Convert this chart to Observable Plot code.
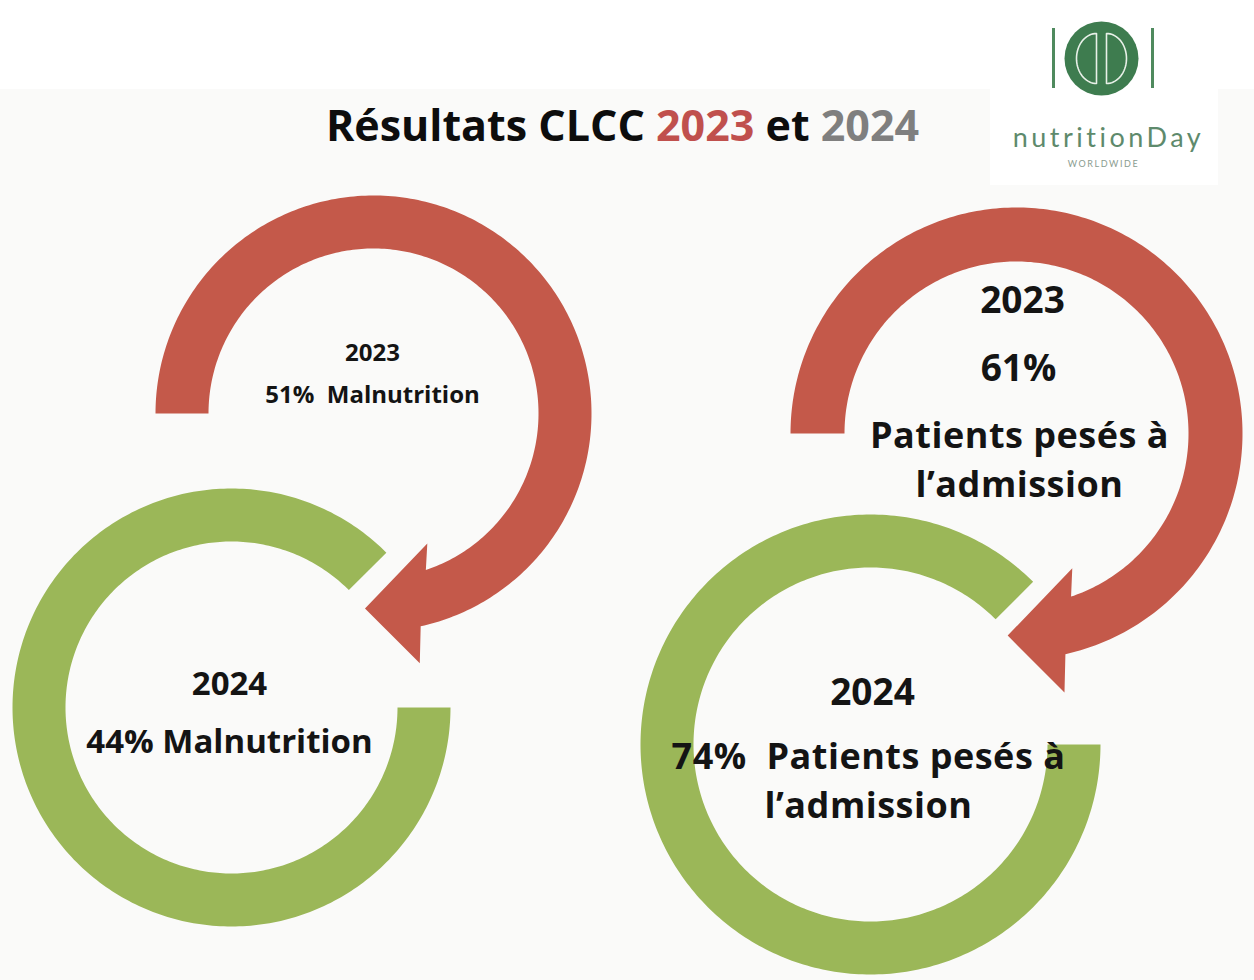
<!DOCTYPE html>
<html><head><meta charset="utf-8">
<script src="https://cdn.jsdelivr.net/npm/d3@7"></script>
<script src="https://cdn.jsdelivr.net/npm/@observablehq/plot@0.6"></script>
<style>
html,body{margin:0;padding:0;background:#fafaf9;}
#wrap{position:relative;width:1254px;height:980px;overflow:hidden;}
#chart{position:absolute;left:0;top:0;}
#title{position:absolute;left:0;top:103px;width:1245px;text-align:center;font-family:"Open Sans",sans-serif;font-weight:700;font-size:43px;line-height:43px;color:#0d0d0d;white-space:pre;}
</style></head><body>
<div id="wrap"><div id="chart"></div><div id="title"></div></div>
<script>
// ---- data ----
const years = ["2023", "2024"];
const malnutrition = [51, 44];          // % malnutrition
const weighedAtAdmission = [61, 74];    // % patients pesés à l'admission
const labelMal = "Malnutrition";
const labelWeighed1 = "Patients pesés à";
const labelWeighed2 = "l’admission";
const titleParts = ["Résultats CLCC ", years[0], " et ", years[1]];
const logoWord = "nutritionDay";
const logoSub = "WORLDWIDE";

// ---- styles / layout ----
const RED = "#c4594a", GREEN = "#9bb758", INK = "#141414";
const TITLE_COLORS = ["#0d0d0d", "#c0504d", "#0d0d0d", "#7f7f7f"];
const W = 1254, H = 980;
const layout = {
  rings: [ {id:"gL", cx:231, cy:707, R:219, r:166, a0:0, a1:315},
           {id:"gR", cx:870, cy:744, R:230, r:177, a0:0, a1:315} ],
  arrows: [ {id:"rL", cx:373, cy:413, R:218, r:165, a0:180},
            {id:"rR", cx:1016, cy:433, R:226, r:172, a0:180} ],
  head: {innerNotch:71.5, outerNotch:77.5, innerBarbR:0.645, innerBarbA:67.5,
         outerBarbR:1.165, outerBarbA:79.5, tipR:0.895, tipA:92.5},
  logo: {cx:1101, cy:58, r:37, lineX:[1053,1152], lineY:[28,88]}
};

const labelText = {
  malA_year: years[0],
  malA_val: `${malnutrition[0]}%\u00a0 ${labelMal}`,
  malB_year: years[1],
  malB_val: `${malnutrition[1]}% ${labelMal}`,
  wA_year: years[0],
  wA_val: `${weighedAtAdmission[0]}%`,
  wA_lbl: `${labelWeighed1}\n${labelWeighed2}`,
  wB_year: years[1],
  wB_lbl: `${weighedAtAdmission[1]}%\u00a0 ${labelWeighed1}\n${labelWeighed2}`
};
const textLayout = [
  {id:"malA_year", x:372, y:350, size:24},
  {id:"malA_val",  x:372, y:392, size:24},
  {id:"malB_year", x:229, y:680, size:33},
  {id:"malB_val",  x:229, y:738, size:33},
  {id:"wA_year",   x:1022, y:296, size:37},
  {id:"wA_val",    x:1018, y:364, size:37},
  {id:"wA_lbl",    x:1019, y:456.5, size:36},
  {id:"wB_year",   x:872, y:688, size:37},
  {id:"wB_lbl",    x:868, y:777.5, size:36}
];
const texts = textLayout.map(d => ({...d, text: labelText[d.id]}));

// ---- geometry helpers ----
const rad = d => d * Math.PI / 180;
const pt = (cx, cy, r, a) => ({x: cx + r * Math.cos(rad(a)), y: cy + r * Math.sin(rad(a))});
function arcPts(cx, cy, r, a0, a1) {
  const n = Math.max(2, Math.ceil(Math.abs(a1 - a0)));
  return d3.range(n + 1).map(i => pt(cx, cy, r, a0 + (a1 - a0) * i / n));
}
function ringShape(g) {
  return [...arcPts(g.cx, g.cy, g.R, g.a0, g.a1), ...arcPts(g.cx, g.cy, g.r, g.a1, g.a0)]
    .map(p => ({...p, id: g.id}));
}
function arrowShape(g) {
  const h = layout.head;
  const outer = arcPts(g.cx, g.cy, g.R, g.a0, 360 + h.outerNotch);
  const head = [pt(g.cx, g.cy, g.R * h.outerBarbR, 360 + h.outerBarbA),
                pt(g.cx, g.cy, g.R * h.tipR, 360 + h.tipA),
                pt(g.cx, g.cy, g.R * h.innerBarbR, 360 + h.innerBarbA)];
  const inner = arcPts(g.cx, g.cy, g.r, 360 + h.innerNotch, g.a0);
  return [...outer, ...head, ...inner].map(p => ({...p, id: g.id}));
}
const ringPts = layout.rings.flatMap(ringShape);
const arrowPts = layout.arrows.flatMap(arrowShape);

// logo glyph (two mirrored half-ellipses)
const L = layout.logo;
const glyph = [-1, 1].flatMap(s => d3.range(-90, 91, 5).map(t =>
  ({id: s, x: L.cx + s * 5 + s * 20 * Math.cos(rad(t)), y: L.cy + 25 * Math.sin(rad(t))})));

const chart = Plot.plot({
  width: W, height: H, margin: 0,
  x: {domain: [0, W], range: [0, W], axis: null},
  y: {domain: [0, H], range: [0, H], axis: null},
  style: {background: "transparent", overflow: "visible"},
  marks: [
    Plot.rect([{x1: 0, x2: W, y1: 0, y2: 89}, {x1: 990, x2: 1218, y1: 0, y2: 185}],
      {x1: "x1", x2: "x2", y1: "y1", y2: "y2", fill: "#ffffff"}),
    Plot.line(ringPts, {x: "x", y: "y", z: "id", fill: GREEN, stroke: "none", curve: "linear-closed"}),
    Plot.line(arrowPts, {x: "x", y: "y", z: "id", fill: RED, stroke: "none", curve: "linear-closed"}),
    Plot.text(texts, {x: "x", y: "y", text: "text", fontSize: "size", fontWeight: 700,
      fontFamily: "Open Sans", fill: INK, textAnchor: "middle", lineAnchor: "middle", lineHeight: 1.37}),
    // logo
    Plot.dot([L], {x: "cx", y: "cy", r: L.r, fill: "#3e7c4f", stroke: "none"}),
    Plot.ruleX(L.lineX, {y1: L.lineY[0], y2: L.lineY[1], stroke: "#4f8a5e", strokeWidth: 3}),
    Plot.line(glyph, {x: "x", y: "y", z: "id", stroke: "#e8f0e8", strokeWidth: 1.6, fill: "none", curve: "linear-closed"}),
    Plot.text([logoWord], {x: 1108, y: 138, text: d => d, fontSize: 27, fontFamily: "Lato",
      fill: "#5e8a6c", textAnchor: "middle"}),
    Plot.text([logoSub], {x: 1103, y: 164, text: d => d, fontSize: 9, fontFamily: "Lato",
      fill: "#8a9c8f", textAnchor: "middle"})
  ]
});
chart.querySelectorAll("text").forEach(t => {
  if (t.textContent === logoSub) t.setAttribute("letter-spacing", "1.6");
  if (t.textContent === logoWord) t.setAttribute("letter-spacing", "3.5");
  if (t.getAttribute("font-size") === "36") t.setAttribute("letter-spacing", "0.5");
});
document.getElementById("chart").appendChild(chart);

const title = document.getElementById("title");
titleParts.forEach((s, i) => {
  const sp = document.createElement("span");
  sp.textContent = s; sp.style.color = TITLE_COLORS[i];
  title.appendChild(sp);
});
</script>
</body></html>
